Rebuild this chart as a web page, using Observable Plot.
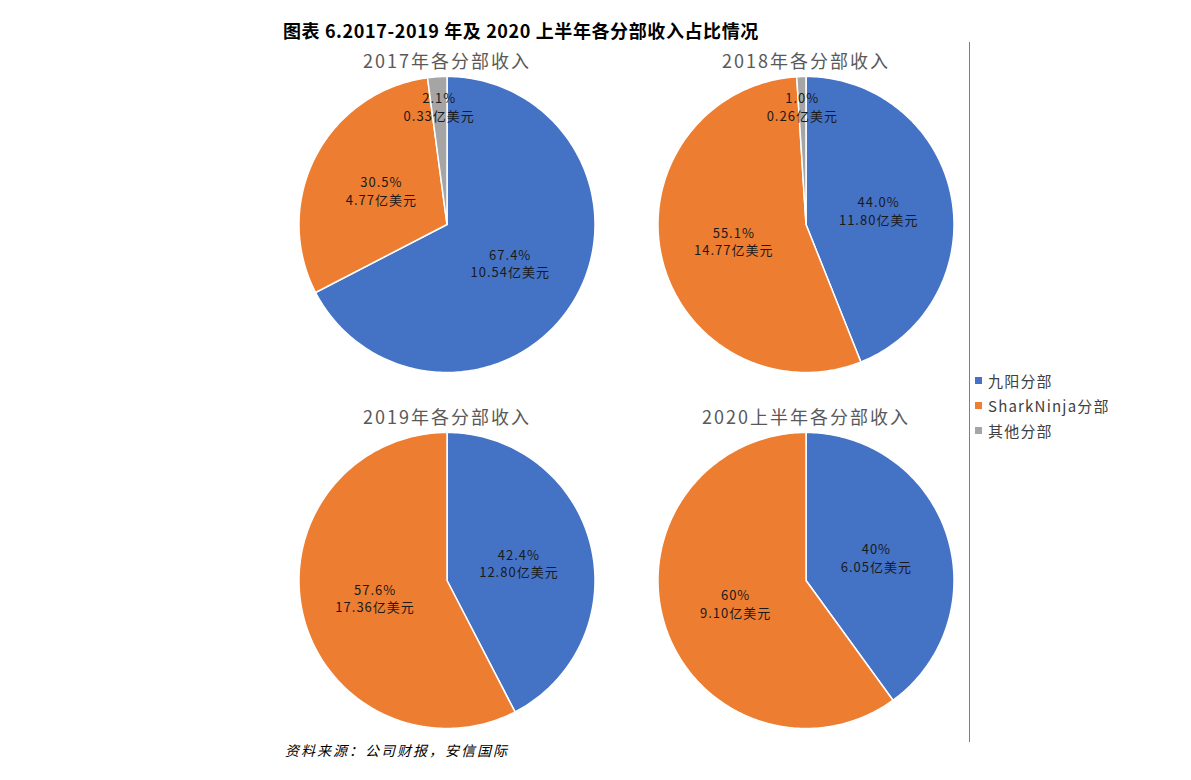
<!DOCTYPE html>
<html><head><meta charset="utf-8">
<script src="https://cdn.jsdelivr.net/npm/d3@7"></script>
<script src="https://cdn.jsdelivr.net/npm/@observablehq/plot@0.6"></script>
<style>
body{margin:0;background:#fff;font-family:"Noto Sans CJK SC",sans-serif;}
#wrap{position:relative;width:1191px;height:780px;overflow:hidden}
#chart{position:absolute;left:0;top:0}
#title{position:absolute;left:283px;top:17px;font-size:18px;line-height:26px;font-weight:bold;letter-spacing:0.6px;color:#000;white-space:nowrap}
#caption{position:absolute;left:285px;top:739px;font-size:14px;line-height:22px;font-style:italic;letter-spacing:2px;color:#000;white-space:nowrap}
#vline{position:absolute;left:969px;top:42px;width:1px;height:700px;background:#7f7f7f}
#legend{position:absolute;left:975px;top:368px;font-size:15px;letter-spacing:1.2px;color:#404040}
.item{display:flex;align-items:center;height:25px;white-space:nowrap}
.sw{width:7px;height:7px;margin-right:6px}
</style></head>
<body>
<div id="wrap">
  <div id="chart"></div>
  <div id="title"></div>
  <div id="vline"></div>
  <div id="legend"></div>
  <div id="caption"></div>
</div>
<script>
const figureTitle = "图表 6.2017-2019 年及 2020 上半年各分部收入占比情况";
const sourceNote = "资料来源：公司财报，安信国际";
const chartTitles = ["2017年各分部收入", "2018年各分部收入", "2019年各分部收入", "2020上半年各分部收入"];
const segments = ["九阳分部", "SharkNinja分部", "其他分部"];
const colors = ["#4472C4", "#ED7D31", "#A5A5A5"];
const joyoungShare = [67.4, 44.0, 42.4, 40];
const sharkShare = [30.5, 55.1, 57.6, 60];
const otherShare = [2.1, 1.0, 0, 0];
const joyoungPctText = ["67.4%", "44.0%", "42.4%", "40%"];
const sharkPctText = ["30.5%", "55.1%", "57.6%", "60%"];
const otherPctText = ["2.1%", "1.0%", "", ""];
const joyoungRevenue = [10.54, 11.80, 12.80, 6.05];
const sharkRevenue = [4.77, 14.77, 17.36, 9.10];
const otherRevenue = [0.33, 0.26, null, null];

document.getElementById("title").textContent = figureTitle;
document.getElementById("caption").textContent = sourceNote;
const lg = document.getElementById("legend");
segments.forEach((s, k) => {
  const it = document.createElement("div"); it.className = "item";
  const sw = document.createElement("span"); sw.className = "sw"; sw.style.background = colors[k];
  const tx = document.createElement("span"); tx.textContent = s;
  it.appendChild(sw); it.appendChild(tx); lg.appendChild(it);
});

const slices = [], labels = [], titles = [];
chartTitles.forEach((t, i) => {
  const col = i % 2, row = Math.floor(i / 2);
  titles.push({col, row, title: t});
  const shares = [joyoungShare[i], sharkShare[i], otherShare[i]];
  const pcts = [joyoungPctText[i], sharkPctText[i], otherPctText[i]];
  const revs = [joyoungRevenue[i], sharkRevenue[i], otherRevenue[i]];
  const total = d3.sum(shares);
  let a = 0;
  shares.forEach((v, k) => {
    if (!v) return;
    const a0 = a, a1 = a + v / total * 2 * Math.PI; a = a1;
    const id = i + "-" + k, seg = segments[k];
    const n = Math.max(2, Math.ceil((a1 - a0) / (Math.PI / 180)));
    slices.push({id, seg, col, row, x: 0, y: 0});
    for (let j = 0; j <= n; j++) {
      const th = a0 + (a1 - a0) * j / n;
      slices.push({id, seg, col, row, x: Math.sin(th), y: Math.cos(th)});
    }
    slices.push({id, seg, col, row, x: 0, y: 0});
    const mid = (a0 + a1) / 2, r = v < 10 ? 0.8 : 0.5;
    labels.push({col, row, x: r * Math.sin(mid), y: r * Math.cos(mid),
      text: pcts[k] + "\n" + revs[k].toFixed(2) + "亿美元"});
  });
});

const kx = 359 / 296, ky = 356 / 296;
const chart = Plot.plot({
  width: 1191, height: 780,
  marginLeft: 266.5, marginRight: 206.5, marginTop: 46, marginBottom: 22,
  style: {fontFamily: "'Noto Sans CJK SC', sans-serif", background: "transparent"},
  x: {domain: [-kx, kx], axis: null},
  y: {domain: [-ky, ky], axis: null},
  fx: {domain: [0, 1], padding: 0, axis: null},
  fy: {domain: [0, 1], padding: 0, axis: null},
  color: {domain: segments, range: colors},
  marks: [
    Plot.line(slices, {x: "x", y: "y", z: "id", fill: "seg", stroke: "white", strokeWidth: 1.5,
      strokeLinejoin: "round", fx: "col", fy: "row"}),
    Plot.text(labels, {x: "x", y: "y", text: "text", fx: "col", fy: "row", fontSize: 13,
      lineHeight: 1.35, fill: "#1a1a1a"}),
    Plot.text(titles, {fx: "col", fy: "row", text: "title", frameAnchor: "top", dy: 9,
      fontSize: 18, fill: "#595959"})
  ]
});
chart.querySelectorAll("text").forEach(el => {
  const host = el.closest("[font-size]");
  const fs = host ? parseFloat(host.getAttribute("font-size")) : NaN;
  if (fs === 13) el.setAttribute("letter-spacing", "1");
  if (fs === 18) el.setAttribute("letter-spacing", "2");
});
document.getElementById("chart").appendChild(chart);
</script>
</body></html>
